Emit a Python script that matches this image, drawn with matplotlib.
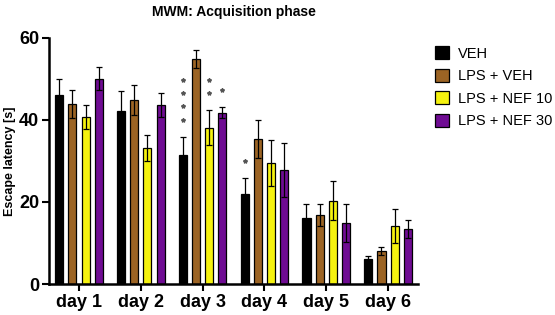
import matplotlib.pyplot as plt
import numpy as np

plt.rcParams['font.family'] = ['Liberation Sans', 'DejaVu Sans']

days = ['day 1', 'day 2', 'day 3', 'day 4', 'day 5', 'day 6']
groups = ['VEH', 'LPS + VEH', 'LPS + NEF 10', 'LPS + NEF 30']
colors = ['#000000', '#9c6424', '#f5f20f', '#6f0c93']

means = {
    'VEH':          [46.1, 42.3, 31.5, 21.9, 16.0, 6.0],
    'LPS + VEH':    [43.9, 44.9, 54.9, 35.4, 16.8, 8.1],
    'LPS + NEF 10': [40.8, 33.1, 38.1, 29.5, 20.3, 14.1],
    'LPS + NEF 30': [50.1, 43.6, 41.8, 27.8, 14.8, 13.4],
}
errs = {
    'VEH':          [3.9, 4.8, 4.4, 4.0, 3.4, 0.8],
    'LPS + VEH':    [3.4, 3.7, 2.1, 4.6, 2.6, 1.0],
    'LPS + NEF 10': [2.9, 3.2, 4.3, 5.6, 4.8, 4.2],
    'LPS + NEF 30': [2.9, 2.9, 1.3, 6.7, 4.6, 2.3],
}
# significance stars: (day index, group index, number of stars)
stars = [(2, 0, 4), (2, 2, 2), (2, 3, 1), (3, 0, 1)]

fig = plt.figure(figsize=(5.55, 3.15), dpi=100)
ax = fig.add_axes([0.0883, 0.0984, 0.665, 0.781])

x = np.arange(len(days))
offsets = [-0.32, -0.107, 0.107, 0.32]
width = 0.13

for i, g in enumerate(groups):
    ax.bar(x + offsets[i], means[g], width, color=colors[i], edgecolor='black',
           linewidth=0.9, label=g, zorder=2)
    ax.errorbar(x + offsets[i], means[g], yerr=errs[g], fmt='none', ecolor='black',
                elinewidth=0.9, capsize=2.2, capthick=0.9, zorder=3)

for d, gi, n in stars:
    g = groups[gi]
    top = means[g][d] + errs[g][d]
    ys = [top + 4.2 + k * 3.2 for k in range(n)]
    ax.plot([x[d] + offsets[gi]] * n, ys, linestyle='none', marker='*',
            markersize=3, color='#555555', zorder=3)

ax.set_xlim(-0.485, 5.485)
ax.set_ylim(0, 60)
ax.set_yticks([0, 20, 40, 60])
ax.set_xticks(x)
ax.set_xticklabels(days, fontsize=13, fontweight='bold')
for lab in ax.get_yticklabels():
    lab.set_fontsize(13)
    lab.set_fontweight('bold')
ax.set_ylabel('Escape latency [s]', fontsize=9, fontweight='bold', labelpad=2)
ax.set_title('MWM: Acquisition phase', fontsize=10, fontweight='bold', pad=16)

for s in ['top', 'right']:
    ax.spines[s].set_visible(False)
for s in ['left', 'bottom']:
    ax.spines[s].set_linewidth(1.8)
ax.tick_params(axis='both', width=1.5, length=5, pad=2)

ax.legend(loc='upper left', bbox_to_anchor=(1.01, 1.02), frameon=False, fontsize=10.5,
          handlelength=1.0, handleheight=1.0, handletextpad=0.6, labelspacing=0.55)

fig.savefig('out.png', dpi=100)
